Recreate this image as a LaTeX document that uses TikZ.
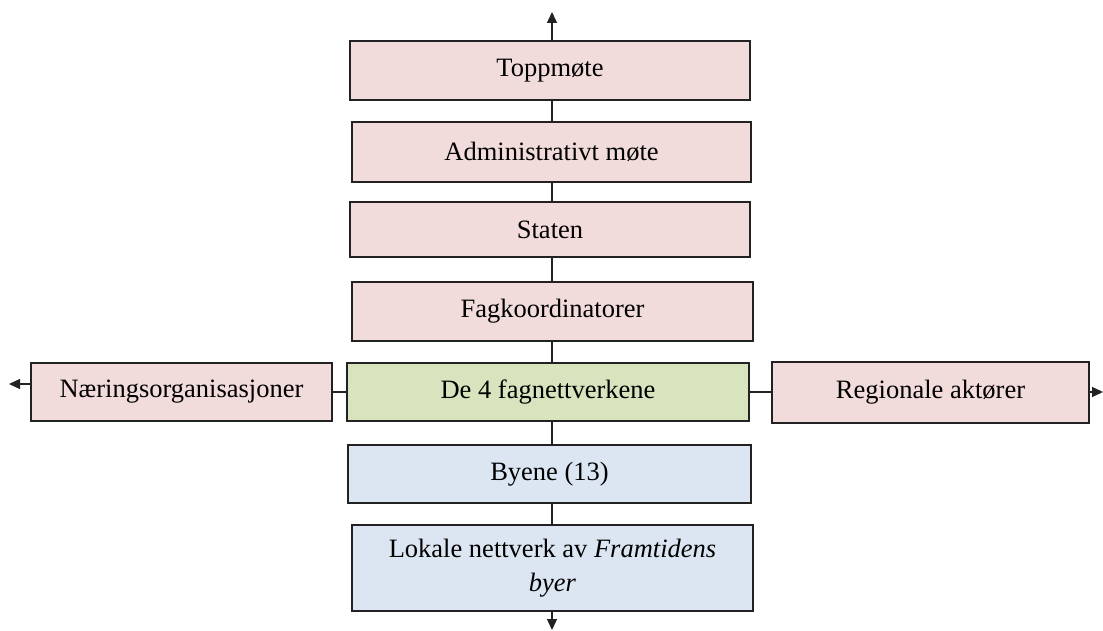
\documentclass[tikz,border=0pt]{standalone}
\usepackage{fontspec}
\setmainfont{Liberation Serif}
\usetikzlibrary{arrows.meta}
\definecolor{pinkfill}{HTML}{F2DCDB}
\definecolor{greenfill}{HTML}{D7E4BD}
\definecolor{bluefill}{HTML}{DCE6F2}
\definecolor{edge}{HTML}{222222}
\begin{document}
\begin{tikzpicture}[x=1pt,y=1pt,
  box/.style={draw=edge,line width=1.3pt,inner sep=0pt,align=center,
    font=\fontsize{26.5}{34}\selectfont},
  pinkbox/.style={box,fill=pinkfill},
  greenbox/.style={box,fill=greenfill},
  bluebox/.style={box,fill=bluefill},
  link/.style={draw=edge,line width=1.3pt},
  arr/.style={link,-{Triangle[length=11pt,width=10pt]}}]
\useasboundingbox (0,0) rectangle (1103,630);
\coordinate (spine) at (552,0);
\node[pinkbox,minimum width=400pt,minimum height=59pt] (topp) at (550,559.5) {Toppmøte};
\node[pinkbox,minimum width=399pt,minimum height=60pt] (admin) at (551.5,478) {Administrativt møte};
\node[pinkbox,minimum width=400pt,minimum height=55pt] (staten) at (550,400.5) {Staten};
\node[pinkbox,minimum width=401pt,minimum height=59pt] (fagk) at (552.5,318.5) {Fagkoordinatorer};
\node[greenbox,minimum width=402pt,minimum height=58pt] (de4) at (548,238) {De 4 fagnettverkene};
\node[pinkbox,minimum width=301pt,minimum height=58pt] (naer) at (181.5,238) {Næringsorganisasjoner};
\node[pinkbox,minimum width=317pt,minimum height=61pt] (reg) at (930.5,237.5) {Regionale aktører};
\node[bluebox,minimum width=403pt,minimum height=58pt] (byene) at (549.5,156) {Byene (13)};
\node[bluebox,minimum width=401pt,minimum height=86pt] (lokale) at (552.5,62) {Lokale nettverk av \textit{Framtidens}\\\textit{byer}};
\coordinate (topend) at (552,618);
\coordinate (botend) at (552,0);
\coordinate (leftend) at (9,246);
\coordinate (rightend) at (1103,238);
\draw[arr] (topp.north -| spine) -- (topend);
\draw[link] (topp.south -| spine) -- (admin.north -| spine);
\draw[link] (admin.south -| spine) -- (staten.north -| spine);
\draw[link] (staten.south -| spine) -- (fagk.north -| spine);
\draw[link] (fagk.south -| spine) -- (de4.north -| spine);
\draw[link] (de4.south -| spine) -- (byene.north -| spine);
\draw[link] (byene.south -| spine) -- (lokale.north -| spine);
\draw[arr] (lokale.south -| spine) -- (botend);
\draw[link] (de4.west) -- (naer.east);
\draw[link] (de4.east) -- (reg.west |- de4.east);
\draw[arr] (naer.west |- leftend) -- (leftend);
\draw[arr] (reg.east |- rightend) -- (rightend);
\end{tikzpicture}
\end{document}
